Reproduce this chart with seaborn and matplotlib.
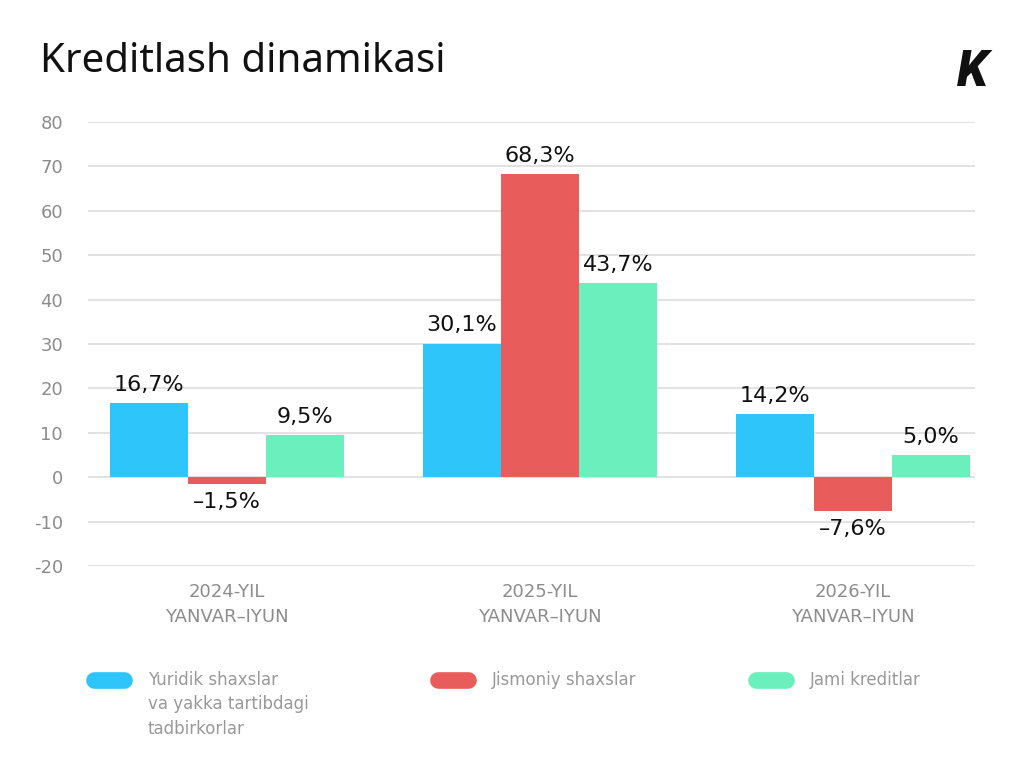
import pandas as pd
import matplotlib.pyplot as plt
import seaborn as sns
from matplotlib.lines import Line2D

# data
periods = ["2024-YIL\nYANVAR–IYUN", "2025-YIL\nYANVAR–IYUN", "2026-YIL\nYANVAR–IYUN"]
series = ["Yuridik shaxslar\nva yakka tartibdagi\ntadbirkorlar", "Jismoniy shaxslar", "Jami kreditlar"]
yuridik = [16.7, 30.1, 14.2]
jismoniy = [-1.5, 68.3, -7.6]
jami = [9.5, 43.7, 5.0]
colors = ["#2ec6fa", "#e85d5b", "#6befbc"]

rows = []
for name, vals in zip(series, [yuridik, jismoniy, jami]):
    for p, v in zip(periods, vals):
        rows.append({"period": p, "series": name, "value": v})
df = pd.DataFrame(rows)

sns.set_style("white")
plt.rcParams["font.family"] = ["DejaVu Sans"]
plt.rcParams["axes.unicode_minus"] = False

fig = plt.figure(figsize=(10.24, 7.73), dpi=100)
ax = fig.add_axes([88 / 1024, 1 - 566 / 773, (975 - 88) / 1024, (566 - 122) / 773])

sns.barplot(data=df, x="period", y="value", hue="series", order=periods,
            hue_order=series, palette=colors, saturation=1, width=0.748,
            linewidth=0, ax=ax, legend=False)

# value labels
for cont, vals in zip(ax.containers, [yuridik, jismoniy, jami]):
    labels = [(f"{v:.1f}%").replace(".", ",").replace("-", "–") for v in vals]
    ax.bar_label(cont, labels=labels, padding=6, fontsize=16, color="#111111")

ax.set_ylim(-20, 80)
ax.set_xlim(-0.444, 2.39)
ax.set_yticks(range(-20, 81, 10))
ax.yaxis.grid(True, color="#dddddd", linewidth=1.2)
ax.set_axisbelow(True)
sns.despine(ax=ax, left=True, bottom=True)
ax.tick_params(axis="y", length=0, pad=18, labelsize=13, labelcolor="#8c8c8c")
ax.tick_params(axis="x", length=0, pad=12, labelsize=13, labelcolor="#8c8c8c")
ax.set_xlabel("")
ax.set_ylabel("")
for t in ax.get_xticklabels():
    t.set_linespacing(1.5)

# title and logo
fig.text(40 / 1024, 1 - 72 / 773, "Kreditlash dinamikasi", fontsize=29,
         family=["Noto Sans", "DejaVu Sans"], color="#111111", va="baseline")
fig.text(988 / 1024, 1 - 86 / 773, "K", fontsize=36, fontweight="black",
         style="italic", family=["Roboto", "DejaVu Sans"], color="#111111",
         ha="right", va="baseline")

# legend drawn by hand: pill + gray label
legend_x = [88, 432, 750]
for name, c, lx in zip(series, colors, legend_x):
    fig.add_artist(Line2D([(lx + 6) / 1024, (lx + 36) / 1024],
                          [1 - 680 / 773, 1 - 680 / 773], color=c, lw=12,
                          solid_capstyle="round", transform=fig.transFigure))
    fig.text((lx + 60) / 1024, 1 - 671 / 773, name, fontsize=12,
             color="#999999", va="top", ha="left", linespacing=1.45)

fig.savefig("out.png", dpi=100)
